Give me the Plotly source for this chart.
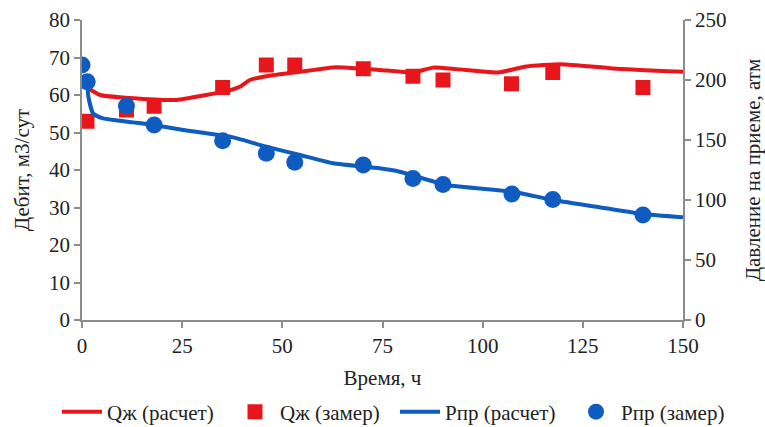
import plotly.graph_objects as go

# Calculated liquid rate Qж (расчет)
q_calc_t = [1.0, 4.5, 12, 23.6, 30, 37, 39.4, 41.9, 46, 54.4, 63.5, 70, 74.3, 82.6, 87.6, 93.4, 103.8, 110.9, 119.6, 132.5, 150]
q_calc_v = [62.2, 60.0, 59.2, 58.7, 59.8, 61.3, 62.2, 64.0, 65.0, 66.2, 67.4, 67.0, 66.7, 66.0, 67.3, 66.9, 66.0, 67.6, 68.2, 67.1, 66.2]

# Measured liquid rate Qж (замер)
q_meas_t = [1.25, 11.1, 18.0, 35.1, 46.0, 53.1, 70.2, 82.6, 90.1, 107.2, 117.5, 140.0]
q_meas_v = [53, 56, 57, 62, 68, 68, 67, 65, 64, 63, 66, 62]

# Calculated intake pressure Pпр (расчет)
p_calc_t = [1.3, 1.6, 2.8, 5.3, 12.8, 17.8, 25.3, 37.7, 46, 54.4, 62.7, 74.3, 79.3, 91, 107.5, 117.5, 128.4, 140, 150]
p_calc_v = [198, 186, 172, 168, 164.7, 162.5, 158.3, 152.2, 144.4, 137.5, 130.6, 126.4, 123.6, 112.5, 106.9, 100, 94.4, 88.3, 85.6]

# Measured intake pressure Pпр (замер)
p_meas_t = [0, 1.3, 11.1, 18.0, 35.1, 46.0, 53.1, 70.2, 82.6, 90.1, 107.3, 117.5, 140.0]
p_meas_v = [212.5, 198.6, 178.3, 162.5, 149.4, 138.9, 131.4, 129.2, 118, 113, 105, 100.5, 87.5]

RED = "#E8161B"
BLUE = "#0F5CC0"
FONT = "Liberation Serif, Times New Roman, serif"
W, H = 765, 427

fig = go.Figure()
fig.add_trace(go.Scatter(x=q_calc_t, y=q_calc_v, mode="lines", name="Qж (расчет)", legend="legend",
                         line=dict(color=RED, width=4, shape="spline", smoothing=0.5)))
fig.add_trace(go.Scatter(x=q_meas_t, y=q_meas_v, mode="markers", name="Qж (замер)", legend="legend2",
                         marker=dict(color=RED, symbol="square", size=15)))
fig.add_trace(go.Scatter(x=p_calc_t, y=p_calc_v, mode="lines", name="Рпр (расчет)", yaxis="y2", legend="legend3",
                         line=dict(color=BLUE, width=4, shape="spline", smoothing=0.5)))
fig.add_trace(go.Scatter(x=p_meas_t, y=p_meas_v, mode="markers", name="Рпр (замер)", yaxis="y2", legend="legend4",
                         marker=dict(color=BLUE, symbol="circle", size=17)))

axis_common = dict(showgrid=False, zeroline=False, showline=True, linecolor="#8c8c8c", linewidth=1.5,
                   ticks="outside", ticklen=6, tickcolor="#8c8c8c", tickwidth=1.5, automargin=False,
                   tickfont=dict(family=FONT, size=21, color="#222"))


def leg(px):
    return dict(orientation="h", xref="container", yref="container", x=px / W, xanchor="left",
                y=(H - 412) / H, yanchor="middle", font=dict(family=FONT, size=21, color="#222"),
                itemwidth=40, bgcolor="rgba(0,0,0,0)")


fig.update_layout(
    width=W, height=H,
    margin=dict(l=82, r=82, t=20, b=107, autoexpand=False),
    plot_bgcolor="white", paper_bgcolor="white",
    font=dict(family=FONT, size=21, color="#222"),
    xaxis=dict(range=[0, 150], tickvals=[0, 25, 50, 75, 100, 125, 150],
               title=dict(text="Время, ч", font=dict(family=FONT, size=21), standoff=13), **axis_common),
    yaxis=dict(range=[0, 80], tickvals=[0, 10, 20, 30, 40, 50, 60, 70, 80],
               title=dict(text="Дебит, м3/сут", font=dict(family=FONT, size=21), standoff=14), **axis_common),
    yaxis2=dict(range=[0, 250], tickvals=[0, 50, 100, 150, 200, 250], overlaying="y", side="right",
                title=dict(text="Давление на приеме, атм", font=dict(family=FONT, size=21), standoff=22),
                **axis_common),
    legend=leg(57),
    legend2=leg(230),
    legend3=leg(395),
    legend4=leg(571),
    showlegend=True,
)

fig.write_html("out.html", config={"displayModeBar": False},
               post_script="document.body.style.margin='0px';")
